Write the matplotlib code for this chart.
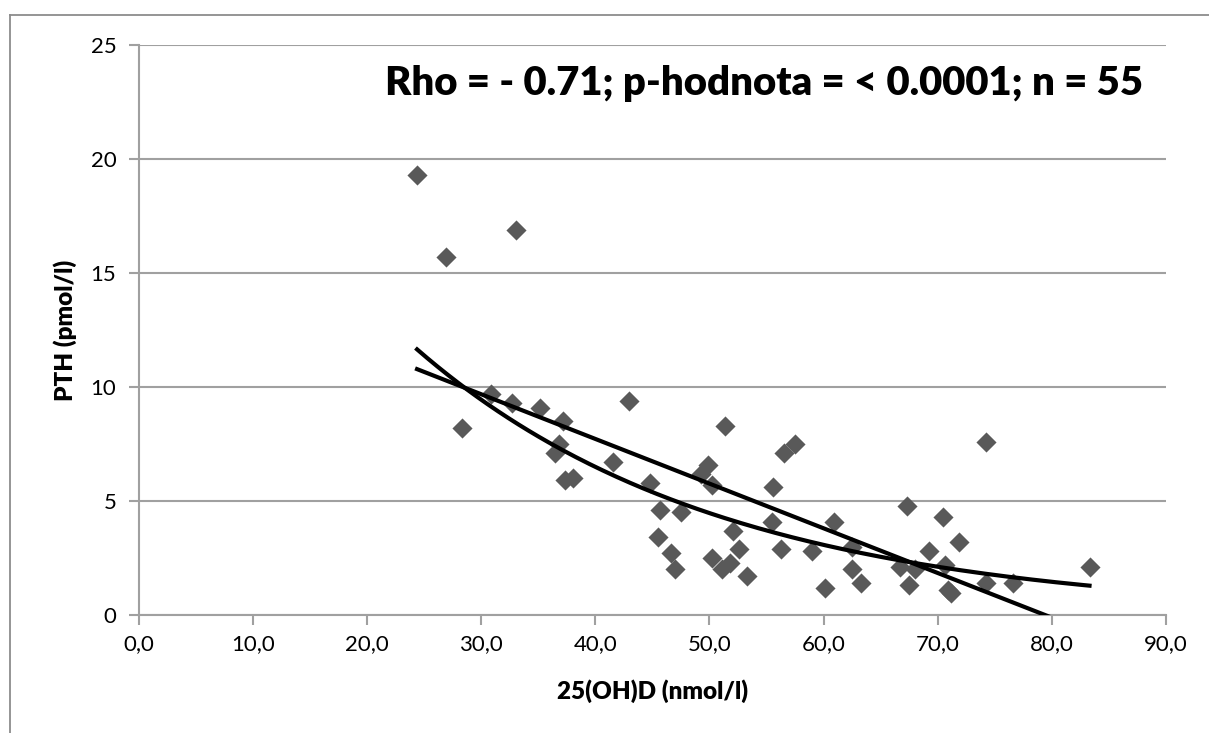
import numpy as np
import matplotlib
matplotlib.use('Agg')
import matplotlib.pyplot as plt
from matplotlib.lines import Line2D

# 25(OH)D vs PTH
vitd = [24.4, 26.9, 33.1, 28.3, 30.9, 32.7, 35.2, 37.2, 36.5, 36.8,
        37.4, 38.1, 43.0, 41.6, 44.8, 45.7, 45.5, 46.6, 47.0, 47.5,
        49.3, 49.9, 50.2, 50.2, 51.4, 51.1, 51.8, 52.1, 52.6, 53.3,
        55.5, 55.6, 56.5, 56.3, 57.5, 59.0, 60.1, 60.9, 62.5, 62.5,
        63.3, 66.7, 67.3, 67.5, 68.0, 69.2, 70.5, 70.6, 70.9, 71.2,
        71.9, 74.2, 74.2, 76.6, 83.3]
pth = [19.3, 15.7, 16.9, 8.2, 9.7, 9.3, 9.1, 8.5, 7.1, 7.5,
       5.9, 6.0, 9.4, 6.7, 5.8, 4.6, 3.4, 2.7, 2.0, 4.5,
       6.2, 6.6, 5.7, 2.5, 8.3, 2.0, 2.3, 3.7, 2.9, 1.7,
       4.1, 5.6, 7.1, 2.9, 7.5, 2.8, 1.2, 4.1, 3.0, 2.0,
       1.4, 2.1, 4.8, 1.3, 2.0, 2.8, 4.3, 2.2, 1.1, 0.95,
       3.2, 7.6, 1.4, 1.4, 2.1]

xticks = [0, 10, 20, 30, 40, 50, 60, 70, 80, 90]
yticks = [0, 5, 10, 15, 20, 25]
annot = 'Rho = - 0.71; p-hodnota = < 0.0001; n = 55'

plt.rcParams['font.family'] = ['Lato', 'DejaVu Sans']

x = np.array(vitd)
y = np.array(pth)

fig = plt.figure(figsize=(12.09, 7.33), dpi=100)
ax = fig.add_axes([138.5/1209, 118/733, (1166-138.5)/1209, (615-45)/733])

# outer chart frame (left + top visible)
fig.add_artist(Line2D([10/1209, 10/1209], [0, 1-15/733], color='#8c8c8c', lw=1.3))
fig.add_artist(Line2D([10/1209, 1], [1-15/733, 1-15/733], color='#8c8c8c', lw=1.3))

ax.scatter(x, y, marker='D', s=105, color='#595959', zorder=3, linewidths=0)

# trend lines (linear + exponential), like Excel
xs = np.linspace(x.min(), x.max(), 200)
b, a = np.polyfit(x, y, 1)
ax.plot(xs, a + b * xs, color='black', lw=3, zorder=4)
k, lc = np.polyfit(x, np.log(y), 1)
ax.plot(xs, np.exp(lc) * np.exp(k * xs), color='black', lw=3, zorder=4)

ax.set_xlim(0, 90)
ax.set_ylim(0, 25)
ax.set_xticks(xticks)
ax.set_xticklabels(['%d,0' % t for t in xticks])
ax.set_yticks(yticks)
ax.grid(axis='y', color='#a0a0a0', lw=1.5)
ax.set_axisbelow(True)
for s in ['top', 'right']:
    ax.spines[s].set_visible(False)
for s in ['left', 'bottom']:
    ax.spines[s].set_color('#a0a0a0')
    ax.spines[s].set_linewidth(1.5)
ax.tick_params(axis='both', colors='#a0a0a0', width=1.5, length=7,
               labelcolor='black', labelsize=16)
ax.tick_params(axis='x', pad=7)
ax.tick_params(axis='y', pad=9)

ax.set_xlabel('25(OH)D (nmol/l)', fontsize=17.5, fontweight='heavy', labelpad=18)
ax.set_ylabel('PTH (pmol/l)', fontsize=17.5, fontweight='heavy', labelpad=10)

ax.text(0.978, 0.932, annot, transform=ax.transAxes, ha='right', va='center',
        fontsize=28.8, fontweight='heavy')

fig.savefig('out.png', dpi=100)
